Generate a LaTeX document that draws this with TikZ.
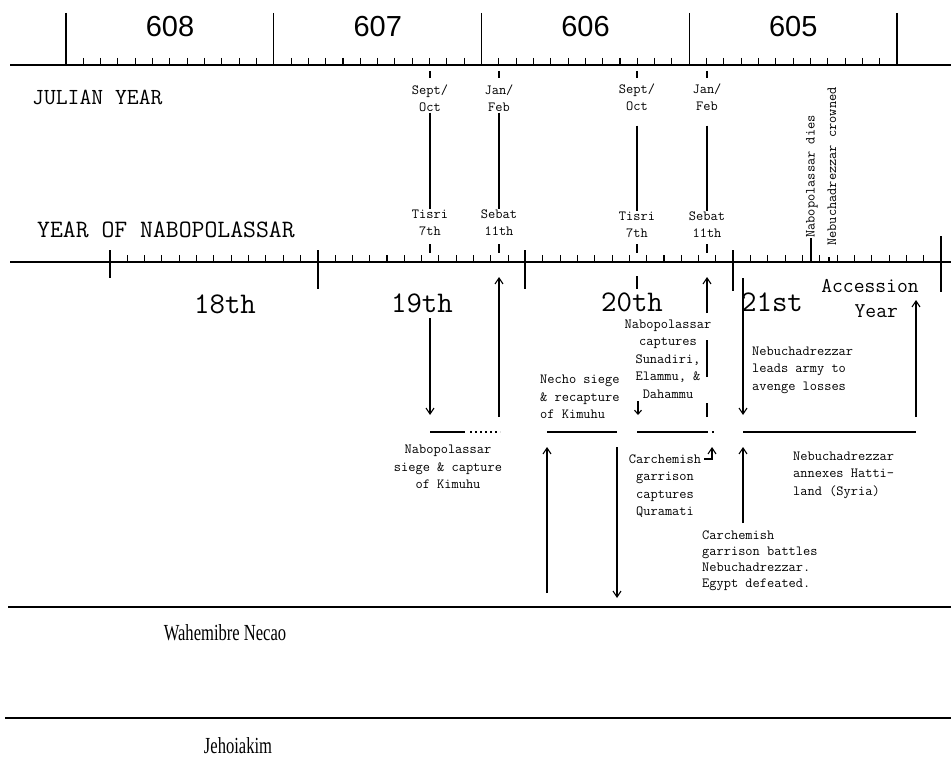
\documentclass[tikz,border=0pt]{standalone}
\usepackage{fontspec}
\setsansfont{Liberation Sans}
\newfontfamily\condserif[FakeStretch=0.72]{Liberation Serif}
\usepackage{tikz}
\usetikzlibrary{arrows.meta, positioning}

\tikzset{
  axisline/.style={line width=2.6pt},
  thinline/.style={line width=1.1pt},
  evbar/.style={line width=2.8pt},
  evarrow/.style={line width=1.1pt, -{Straight Barb[length=6pt,width=8pt]}},
  yearnum/.style={font=\sffamily\fontsize{29}{29}\selectfont},
  monthlbl/.style={font=\ttfamily\fontsize{14}{17}\selectfont, align=center, inner sep=1pt},
  evtext/.style={font=\ttfamily\fontsize{14}{17.5}\selectfont, inner sep=0pt},
  ordlbl/.style={font=\ttfamily\fontsize{30}{30}\selectfont},
  rulername/.style={font=\condserif\fontsize{23}{23}\selectfont},
}

\begin{document}
\begin{tikzpicture}[x=1pt, y=-1pt]
  \useasboundingbox (0,0) rectangle (951,760);
  % julian years
  \draw[axisline] (10,65) -- (951,65);
  \foreach \k in {0,...,4} \draw[thinline] (66+207.75*\k,13) -- (66+207.75*\k,65);
  \foreach \k in {0,...,3} \foreach \m in {1,...,11}
    \draw[thinline] (66+207.75*\k+17.3125*\m,58) -- ++(0,7);
  \foreach \yr [count=\k from 0] in {608,607,606,605}
    \node[yearnum] (y\yr) at (170+207.75*\k,27) {\yr};
  \node[font=\ttfamily\fontsize{23}{23}\selectfont, anchor=west, inner sep=0pt] (julian) at (32,97) {JULIAN YEAR};

  % years of nabopolassar
  \draw[axisline] (10,262) -- (951,262);
  \foreach \x/\a/\b in {110/250/278, 318/250/289, 525/250/289, 733/250/291, 941/236/292}
    \draw[thinline] (\x,\a) -- (\x,\b);
  \foreach \k in {0,...,3} \foreach \m in {1,...,11}
    \draw[thinline] (110+207.75*\k+17.3125*\m,255) -- ++(0,7);
  \node[font=\ttfamily\fontsize{25}{25}\selectfont, anchor=west, inner sep=0pt] (nabyear) at (37,230) {YEAR OF NABOPOLASSAR};
  \node[ordlbl] (o18) at (225,304) {18th};
  \node[ordlbl] (o19) at (422,303) {19th};
  \node[ordlbl] (o20) at (632,302) {20th};
  \node[ordlbl] (o21) at (772,302) {21st};
  \node[font=\ttfamily\fontsize{21}{25}\selectfont, align=center, inner sep=0pt] (accession) at (870,298) {Accession\\\hspace*{0.6em}Year};

  % month markers
  \node[monthlbl] (sep1) at (430,98) {Sept/\\Oct};
  \node[monthlbl] (tis1) at (430,223) {Tisri\\7th};
  \node[monthlbl] (jan1) at (499,98) {Jan/\\Feb};
  \node[monthlbl] (seb1) at (499,223) {Sebat\\11th};
  \node[monthlbl] (sep2) at (637,97) {Sept/\\Oct};
  \node[monthlbl] (tis2) at (637,225) {Tisri\\7th};
  \node[monthlbl] (jan2) at (707,97) {Jan/\\Feb};
  \node[monthlbl] (seb2) at (707,225) {Sebat\\11th};
  \foreach \mx in {430,499,637,707} {
    \draw[thinline] (\mx,71) -- (\mx,78);
    \draw[thinline] (\mx,244) -- (\mx,253);
  }
  \draw[thinline] (sep1) -- (tis1);
  \draw[thinline] (jan1) -- (seb1);
  \draw[thinline, shorten <=14pt] (sep2) -- (tis2);
  \draw[thinline, shorten <=14pt] (jan2) -- (seb2);
  \draw[thinline] (637,276) -- (637,289);

  % death and crowning
  \node[evtext, rotate=90, anchor=west] (nabdies) at (812,238) {Nabopolassar dies};
  \node[evtext, rotate=90, anchor=west] (nebcrown) at (832,246) {Nebuchadrezzar crowned};
  \coordinate (diesaxis) at (811,262);
  \coordinate (crownaxis) at (829,262);
  \draw[thinline] (nabdies.west -| diesaxis) -- (diesaxis);
  \draw[line width=2pt] ([yshift=5pt]crownaxis) -- (crownaxis);

  % event bars
  \draw[evbar] (430,432) -- (465,432);
  \draw[evbar, dash pattern=on 2pt off 3pt] (470,432) -- (500,432);
  \draw[evbar] (547,432) -- (617,432);
  \draw[evbar] (637,432) -- (708,432);
  \draw[evbar] (712,432) -- (714,432);
  \draw[evbar] (743,432) -- (916,432);

  % event texts
  \node[evtext, align=center] (evsiege) at (448,467) {Nabopolassar\\siege \& capture\\of Kimuhu};
  \node[evtext, align=left, anchor=west] (evnecho) at (540,397) {Necho siege\\\& recapture\\of Kimuhu};
  \node[evtext, align=center] (evsuna) at (668,359) {Nabopolassar\\captures\\Sunadiri,\\Elammu, \&\\Dahammu};
  \node[evtext, align=center] (evqura) at (665,486) {Carchemish\\garrison\\captures\\Quramati};
  \node[evtext, align=left, anchor=west, font=\ttfamily\fontsize{14}{16}\selectfont] (evbattle) at (702,561) {Carchemish\\garrison battles\\Nebuchadrezzar.\\Egypt defeated.};
  \node[evtext, align=left, anchor=west] (evhatti) at (793,475) {Nebuchadrezzar\\annexes Hatti-\\land (Syria)};
  \node[evtext, align=left, anchor=west] (evavenge) at (752,370) {Nebuchadrezzar\\leads army to\\avenge losses};

  % arrow ends
  \coordinate (sg19a) at (430,318);  \coordinate (sg19b) at (430,415);
  \coordinate (sb19a) at (499,417);  \coordinate (sb19b) at (499,277);
  \coordinate (nea) at (547,593);    \coordinate (neb) at (547,447);
  \coordinate (nec) at (617,447);    \coordinate (ned) at (617,598);
  \coordinate (sua) at (638,401);    \coordinate (sub) at (638,415);
  \coordinate (sba) at (707,417);    \coordinate (sbb) at (707,277);
  \coordinate (qua) at (704,459);    \coordinate (qub) at (712,447);
  \coordinate (ava) at (743,278);    \coordinate (avb) at (743,415);
  \coordinate (bta) at (743,523);    \coordinate (btb) at (743,447);
  \coordinate (aca) at (916,417);    \coordinate (acb) at (916,300);

  % arrows
  \draw[evarrow] (sg19a) -- (sg19b);
  \draw[evarrow] (sb19a) -- (sb19b);
  \draw[evarrow] (nea) -- (neb);
  \draw[evarrow] (nec) -- (ned);
  \draw[line width=1.1pt, -{Straight Barb[length=4pt,width=7pt]}] (sua) -- (sub);
  \draw[thinline] (sba) -- ++(0,-14);
  \draw[thinline] (707,377) -- (707,340);
  \draw[evarrow] (707,313) -- (sbb);
  \draw[evarrow] (qua) -| (qub);
  \draw[evarrow] (ava) -- (avb);
  \draw[evarrow] (bta) -- (btb);
  \draw[evarrow] (aca) -- (acb);

  % rulers
  \draw[axisline] (8,607) -- (951,607);
  \node[rulername] (necao) at (225,633) {Wahemibre Necao};
  \draw[axisline] (5,718) -- (951,718);
  \node[rulername] (jehoiakim) at (238,746) {Jehoiakim};
\end{tikzpicture}
\end{document}
